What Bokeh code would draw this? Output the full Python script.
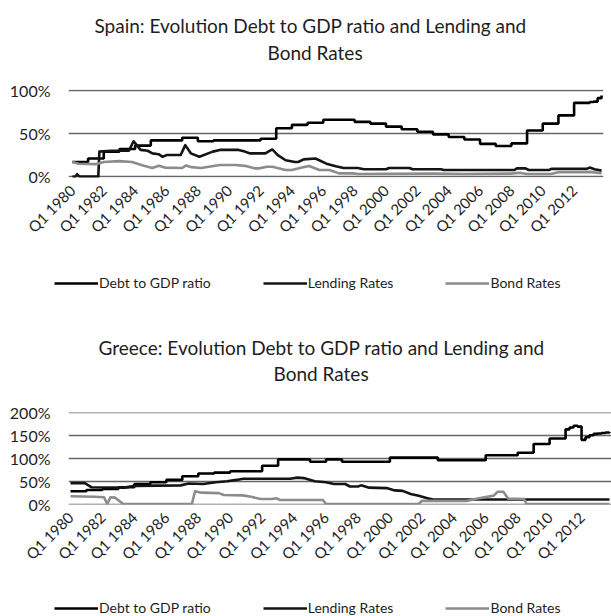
from math import pi
from bokeh.plotting import figure
from bokeh.layouts import column
from bokeh.models import (FixedTicker, PrintfTickFormatter, Legend, LegendItem,
                          Title, Range1d)
from bokeh.embed import file_html
from bokeh.resources import INLINE

FONT = "Lato"
TXT = "#1e1e1e"

# ---------------- data ----------------
tick_years = list(range(1980, 2013, 2))
tick_labels = ["Q1 %d" % y for y in tick_years]
series_names = ["Debt to GDP ratio", "Lending Rates", "Bond Rates"]

# Spain: Debt to GDP ratio (%), annual 1980-2012 then quarterly 2013
es_debt_x = list(range(1980, 2013)) + [2013.0, 2013.25, 2013.5, 2013.75]
es_debt_y = [17, 21, 29, 32, 36, 42, 42, 45, 41, 42, 42, 42, 44,
             56, 60, 62.5, 66, 66, 63.5, 61.5, 58, 55, 52,
             49, 46, 43, 38, 35.5, 38.5, 53.5, 61.5, 71, 85.5,
             86.5, 87, 91, 94]
# Spain: Lending rates (%)
es_lend_x = [1980.0, 1980.2, 1980.3, 1980.45, 1981.65, 1981.72, 1982.5, 1983.6, 1983.9,
             1984.35, 1984.8, 1985.1, 1985.5, 1985.75, 1986.0, 1986.9, 1987.2, 1987.55,
             1988.1, 1988.95, 1989.4, 1990.6, 1991.0, 1991.3, 1992.3, 1992.75, 1993.1,
             1993.6, 1994.2, 1994.4, 1994.75, 1995.5, 1996.2, 1996.8, 1997.3, 1998.2,
             1998.6, 2000.0, 2000.2, 2001.5, 2001.7, 2003.5, 2003.7, 2008.2, 2008.35,
             2008.9, 2009.1, 2010.4, 2010.55, 2012.8, 2013.0, 2013.3, 2013.75]
es_lend_y = [0, 0, 3, 0, 0, 29, 30, 30, 41,
             31, 30, 27, 26, 23, 25, 25, 36.5, 27,
             23, 29, 31, 31, 29, 27, 27, 31.5, 25,
             19, 17, 17, 20, 21, 15, 12, 10, 10,
             8.5, 8.5, 10, 10, 8.5, 8.5, 7.7, 7.7, 9.6,
             9.6, 7.7, 7.7, 9, 9, 10.5, 8.5, 7]
# Spain: Bond rates (%)
es_bond_x = [1980.0, 1980.4, 1981.5, 1982.0, 1983.0, 1983.8, 1984.5, 1985.1, 1985.5,
             1985.9, 1987.0, 1987.25, 1987.6, 1988.2, 1988.9, 1989.4, 1990.4, 1991.0,
             1991.6, 1991.9, 1992.4, 1992.75, 1993.6, 1994.0, 1994.7, 1995.1, 1995.75,
             1996.4, 1997.0, 1997.9, 1998.2, 2003.0, 2005.0, 2008.0, 2008.5, 2009.0,
             2010.5, 2011.0, 2012.5, 2013.0, 2013.75]
es_bond_y = [17, 15, 14.5, 17, 18, 17, 13, 10, 12.7,
             10.5, 10, 13, 11, 10, 12, 13.5, 13.5, 12.5,
             9.6, 9.6, 11.5, 11.5, 7.7, 7.7, 10.8, 12.3, 7.7,
             7.7, 3.8, 3.8, 3, 3.5, 3, 3.5, 4.5, 3,
             3, 5, 5, 5.5, 4]

# Greece: Debt to GDP ratio (%), annual 1980-2010 then quarterly 2011-2013
gr_debt_x = list(range(1980, 2011)) + [2011.0, 2011.25, 2011.5, 2011.75,
                                       2012.0, 2012.25, 2012.5, 2012.75,
                                       2013.0, 2013.25, 2013.5, 2013.75]
gr_debt_y = [28, 31, 33, 37, 44, 48, 53, 61, 67, 69, 72, 72, 84,
             98, 98, 93, 98, 93, 93, 93, 102, 102, 102,
             96, 96, 96, 107, 107, 112.5, 132, 144,
             164, 168, 172, 170, 141, 147, 151, 154, 155, 156, 157, 158]
# Greece: Lending rates (%)
gr_lend_x = [1980.0, 1980.9, 1981.3, 1983.4, 1984.0, 1986.9, 1987.4, 1988.3, 1989.1,
             1989.8, 1990.4, 1990.8, 1993.75, 1994.2, 1994.6, 1995.3, 1996.0, 1996.5,
             1997.2, 1997.5, 1998.0, 1998.2, 1998.7, 1999.8, 2000.3, 2000.8, 2001.3,
             2001.8, 2002.3, 2002.7, 2013.75]
gr_lend_y = [46, 46, 37, 36, 40, 41, 45, 44, 48,
             50, 53, 55.5, 55.5, 58, 57, 50, 48, 44,
             44, 38.5, 38.5, 41, 36, 35, 30, 29, 22,
             18, 13, 10, 10]
# Greece: Bond rates (%)
gr_bond_x = [1980.0, 1981.5, 1982.1, 1982.3, 1982.5, 1982.8, 1983.3, 1987.6, 1987.8,
             1988.2, 1989.3, 1989.6, 1990.8, 1991.3, 1991.9, 1992.6, 1992.9, 1993.1,
             1995.8, 1996.0, 2001.8, 2002.0, 2004.8, 2005.5, 2006.5, 2006.75, 2007.1,
             2007.4, 2008.4, 2008.55, 2013.75]
gr_bond_y = [17, 16, 15, 0, 15, 14, 0, 0, 28,
             25, 24, 20, 19, 16, 11, 11, 12.6, 9,
             9, 0, 0, 7, 7, 12, 18.5, 27, 27,
             12, 11, 0, 0]

STYLES = [dict(line_color="black", line_width=2.6),
          dict(line_color="#141414", line_width=2.6, line_join="round"),
          dict(line_color="#8c8c8c", line_width=2.6, line_join="round")]


def draw_series(p, debt, lend, bond):
    r1 = p.step(debt[0], debt[1], mode="after", **STYLES[0])
    r2 = p.line(lend[0], lend[1], **STYLES[1])
    r3 = p.line(bond[0], bond[1], **STYLES[2])
    return [r1, r2, r3]


def make_chart(title1, title2, y_max, y_ticks, debt, lend, bond,
               x_range, left, right, top, bottom, fw, fh, off1, off2,
               gap, s1):
    p = figure(frame_width=fw, frame_height=fh, x_range=Range1d(*x_range),
               y_range=Range1d(-1.0, y_max + 1.0),
               output_backend="svg", toolbar_location=None,
               min_border_left=left, min_border_right=right,
               min_border_top=top, min_border_bottom=bottom)
    p.outline_line_color = None
    p.background_fill_color = "white"
    p.border_fill_color = "white"

    p.xgrid.visible = False
    p.ygrid.ticker = FixedTicker(ticks=y_ticks)
    p.ygrid.grid_line_color = "#666666"
    p.ygrid.grid_line_width = 1.7

    p.yaxis.ticker = FixedTicker(ticks=y_ticks)
    p.yaxis.formatter = PrintfTickFormatter(format="%d%%")
    p.yaxis.axis_line_color = None
    p.yaxis.major_tick_line_color = None
    p.yaxis.minor_tick_line_color = None
    p.yaxis.major_label_text_font = FONT
    p.yaxis.major_label_text_font_size = "16px"
    p.yaxis.major_label_text_color = TXT
    p.yaxis.major_label_standoff = 12

    p.xaxis.ticker = FixedTicker(ticks=tick_years)
    p.xaxis.major_label_overrides = {y: lab for y, lab in zip(tick_years, tick_labels)}
    p.xaxis.major_label_orientation = pi / 4
    p.xaxis.axis_line_color = None
    p.xaxis.major_tick_line_color = None
    p.xaxis.minor_tick_line_color = None
    p.xaxis.major_label_text_font = FONT
    p.xaxis.major_label_text_font_size = "15px"
    p.xaxis.major_label_text_color = TXT
    p.xaxis.major_label_standoff = 4

    draw_series(p, debt, lend, bond)

    # empty spacer row between the plot area and the second title line
    spacer = Title(text=" ", text_font=FONT, text_font_size="11px", standoff=gap)
    p.add_layout(spacer, "above")
    t2 = Title(text=title2, align="left", offset=off2, text_font=FONT,
               text_font_size="19px", text_font_style="normal", text_color=TXT,
               standoff=2)
    p.add_layout(t2, "above")

    p.title.text = title1
    p.title.align = "left"
    p.title.offset = off1
    p.title.text_font = FONT
    p.title.text_font_size = "19px"
    p.title.text_font_style = "normal"
    p.title.text_color = TXT
    p.title.standoff = s1
    return p


def make_legend(h, loc, debt, lend, bond):
    # a strip holding only the key; the series sit outside its visible range
    lf = figure(frame_width=611, frame_height=h, x_range=Range1d(0, 1),
                y_range=Range1d(0, 1), output_backend="svg", toolbar_location=None,
                x_axis_location=None, y_axis_location=None, min_border=0)
    lf.outline_line_color = None
    lf.title.visible = False
    lf.grid.visible = False
    rs = draw_series(lf, debt, lend, bond)
    legend = Legend(items=[LegendItem(label=n, renderers=[r]) for n, r in zip(series_names, rs)],
                    orientation="horizontal", location=loc,
                    label_text_font=FONT, label_text_font_size="14px",
                    label_text_color=TXT, glyph_width=44, glyph_height=16,
                    label_standoff=1, spacing=52, padding=0, margin=0,
                    border_line_color=None, background_fill_alpha=0)
    lf.add_layout(legend)
    return lf


spain = make_chart("Spain: Evolution Debt to GDP ratio and Lending and", "Bond Rates",
                   100, [0, 50, 100],
                   (es_debt_x, es_debt_y), (es_lend_x, es_lend_y), (es_bond_x, es_bond_y),
                   (1979.75, 2013.875), 65, 11, 89, 85, 535, 88, 26, 199, 10, 2)
spain_key = make_legend(46, (54, 17), (es_debt_x, es_debt_y), (es_lend_x, es_lend_y),
                        (es_bond_x, es_bond_y))
greece = make_chart("Greece: Evolution Debt to GDP ratio and Lending and", "Bond Rates",
                    200, [0, 50, 100, 150, 200],
                    (gr_debt_x, gr_debt_y), (gr_lend_x, gr_lend_y), (gr_bond_x, gr_bond_y),
                    (1979.875, 2013.875), 68, 0, 104, 85, 543, 92, 30, 205, 12, 0)
greece_key = make_legend(27, (54, 0), (gr_debt_x, gr_debt_y), (gr_lend_x, gr_lend_y),
                         (gr_bond_x, gr_bond_y))

layout = column(spain, spain_key, greece, greece_key, spacing=0)
open("out.html", "w").write(file_html(layout, INLINE))
